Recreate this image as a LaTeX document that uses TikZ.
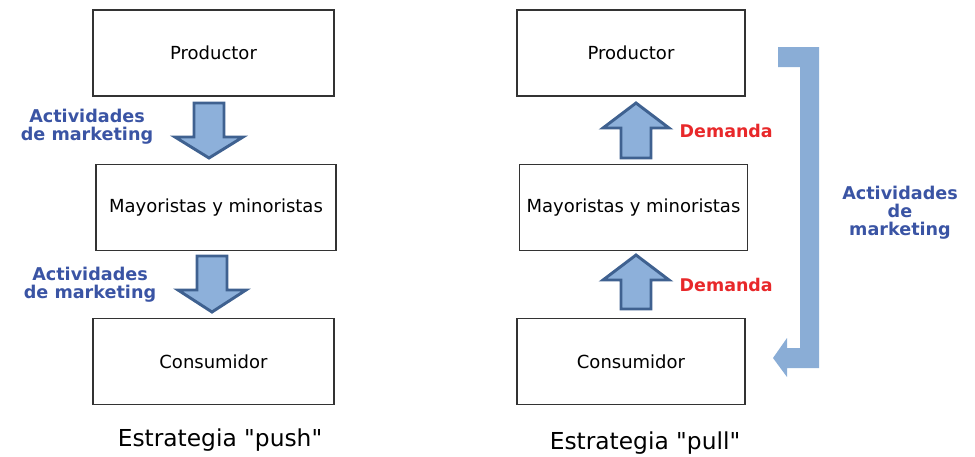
\documentclass[tikz,border=0pt]{standalone}
\usepackage{fontspec}
\setmainfont{DejaVu Sans}[Ligatures=TeXOff]
\usetikzlibrary{positioning}
\definecolor{boxline}{HTML}{333333}
\definecolor{arrowfill}{HTML}{8DB0DA}
\definecolor{arrowline}{HTML}{3F6190}
\definecolor{bracketfill}{HTML}{8AADD6}
\definecolor{actblue}{HTML}{3A54A4}
\definecolor{demred}{HTML}{E8282A}
\tikzstyle{box} = [rectangle, draw=boxline, line width=1.2pt, minimum height=64.5pt, text centered, font=\fontsize{13.5}{15}\selectfont]
\tikzstyle{blockarrow} = [draw=arrowline, fill=arrowfill, line width=2.2pt, line join=miter]
\tikzstyle{actlabel} = [text=actblue, align=center, font=\bfseries\fontsize{13.2}{13.5}\selectfont]
\tikzstyle{demlabel} = [text=demred, font=\bfseries\fontsize{13.1}{13.5}\selectfont]
\tikzstyle{caption} = [font=\fontsize{17.5}{18}\selectfont]

\begin{document}
\begin{tikzpicture}[x=0.75pt, y=-0.75pt]
\useasboundingbox (0,0) rectangle (975,457);

% Push strategy
\node (prodL) [box, minimum width=180.75pt] at (213.5,53) {Productor};
\node (mayL) [box, minimum width=180pt] at (216,207.5) {Mayoristas y minoristas};
\node (consL) [box, minimum width=180.75pt] at (213.5,361.5) {Consumidor};

\draw [blockarrow] (194,103) -- (224,103) -- (224,137) -- (243,137) -- (209,158) -- (175,137) -- (194,137) -- cycle;
\draw [blockarrow] (197,256) -- (227,256) -- (227,290) -- (246,290) -- (212,312) -- (178,290) -- (197,290) -- cycle;

\node (actL1) [actlabel] at (87,127) {Actividades\\de marketing};
\node (actL2) [actlabel] at (90,285) {Actividades\\de marketing};

\node (capL) [caption] at (220,440) {Estrategia "push"};

% Pull strategy
\node (prodR) [box, minimum width=171pt] at (631,53) {Productor};
\node (mayR) [box, minimum width=171pt] at (633.5,207.5) {Mayoristas y minoristas};
\node (consR) [box, minimum width=171pt] at (631,361.5) {Consumidor};

\draw [blockarrow] (636,103) -- (669,128) -- (651,128) -- (651,158) -- (621,158) -- (621,128) -- (603,128) -- cycle;
\draw [blockarrow] (636,255) -- (669,280) -- (651,280) -- (651,309) -- (621,309) -- (621,280) -- (603,280) -- cycle;

\node (demR1) [demlabel, anchor=west] at (675,131) {Demanda};
\node (demR2) [demlabel, anchor=west] at (675,285) {Demanda};

\fill [bracketfill] (778,47) -- (819,47) -- (819,368) -- (787,368) -- (787,377) -- (773,358) -- (787,338) -- (787,348) -- (800,348) -- (800,67) -- (778,67) -- cycle;

\node (actR) [actlabel] at (900,213) {Actividades\\de\\marketing};

\node (capR) [caption] at (645,443) {Estrategia "pull"};

\end{tikzpicture}
\end{document}
